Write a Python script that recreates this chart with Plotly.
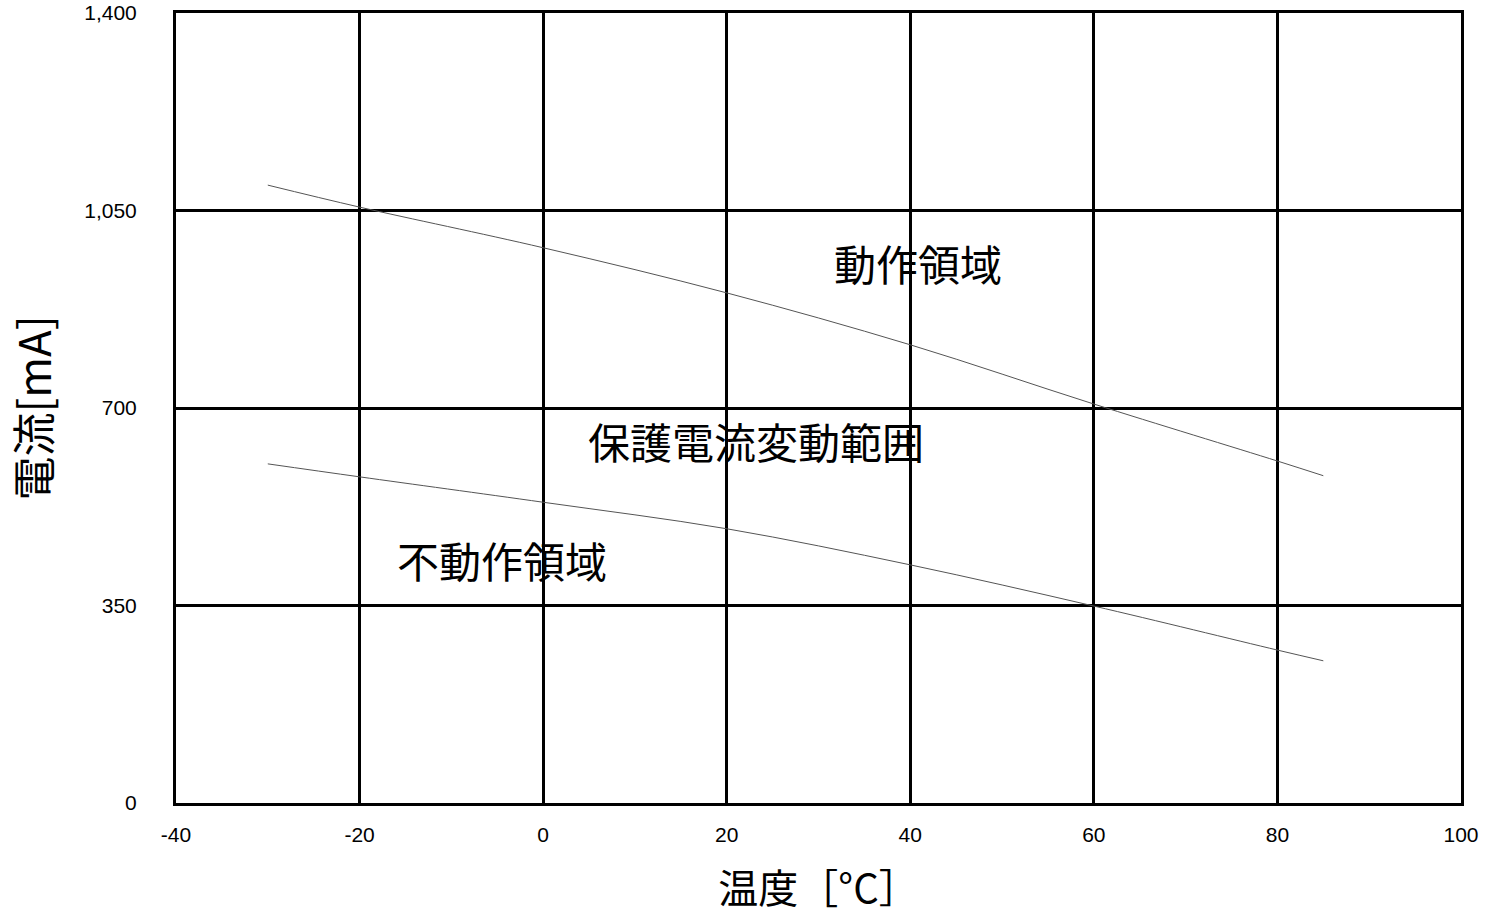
import plotly.graph_objects as go

# temperature [deg C] and current [mA]
temps = [-30, -20, 0, 20, 40, 60, 80, 85]
upper_ma = [1095, 1056, 984, 904, 812, 707, 606, 580]
lower_ma = [601, 578, 533, 486, 422, 349, 271, 252]

x_ticks = [-40, -20, 0, 20, 40, 60, 80, 100]
x_tick_text = ["-40", "-20", "0", "20", "40", "60", "80", "100"]
y_ticks = [0, 350, 700, 1050, 1400]
y_tick_text = ["0", "350", "700", "1,050", "1,400"]

region_labels = ["動作領域", "保護電流変動範囲", "不動作領域"]
label_x = [40.8, 23.2, -4.5]
label_y = [957, 643, 431]

jp_font = "Noto Sans CJK JP"
num_font = "Liberation Sans"

fig = go.Figure()
for series in (upper_ma, lower_ma):
    fig.add_trace(go.Scatter(x=temps, y=series, mode="lines",
                             line=dict(color="#555555", width=1),
                             line_shape="spline", showlegend=False))

for text, lx, ly in zip(region_labels, label_x, label_y):
    fig.add_annotation(x=lx, y=ly, text=text, showarrow=False,
                       font=dict(family=jp_font, size=42, color="black"))

fig.update_layout(
    width=1486, height=915,
    margin=dict(l=176, r=25, t=13, b=112),
    plot_bgcolor="white", paper_bgcolor="white",
)
fig.update_xaxes(range=[-40, 100], tickvals=x_ticks, ticktext=x_tick_text,
                 automargin=False, ticklabeloverflow="allow",
                 showgrid=True, gridcolor="black", gridwidth=3,
                 showline=True, linecolor="black", linewidth=3, mirror=True,
                 zeroline=False, ticks="", ticklabelstandoff=11,
                 tickfont=dict(family=num_font, size=21, color="black"),
                 title=dict(text="温度［°C］", standoff=42,
                            font=dict(family=jp_font, size=40, color="black")))
fig.update_yaxes(range=[0, 1400], tickvals=y_ticks, ticktext=y_tick_text,
                 automargin=False, ticklabeloverflow="allow",
                 showgrid=True, gridcolor="black", gridwidth=3,
                 showline=True, linecolor="black", linewidth=3, mirror=True,
                 zeroline=False, ticks="", ticklabelstandoff=32,
                 tickfont=dict(family=num_font, size=21, color="black"),
                 title=dict(text="電流[mA]", standoff=70,
                            font=dict(family=jp_font, size=44, color="black")))

# drop the default 8px body margin so the figure sits at the page corner
fig.write_html("out.html", config={"displayModeBar": False},
               post_script="document.body.style.margin = '0';")
